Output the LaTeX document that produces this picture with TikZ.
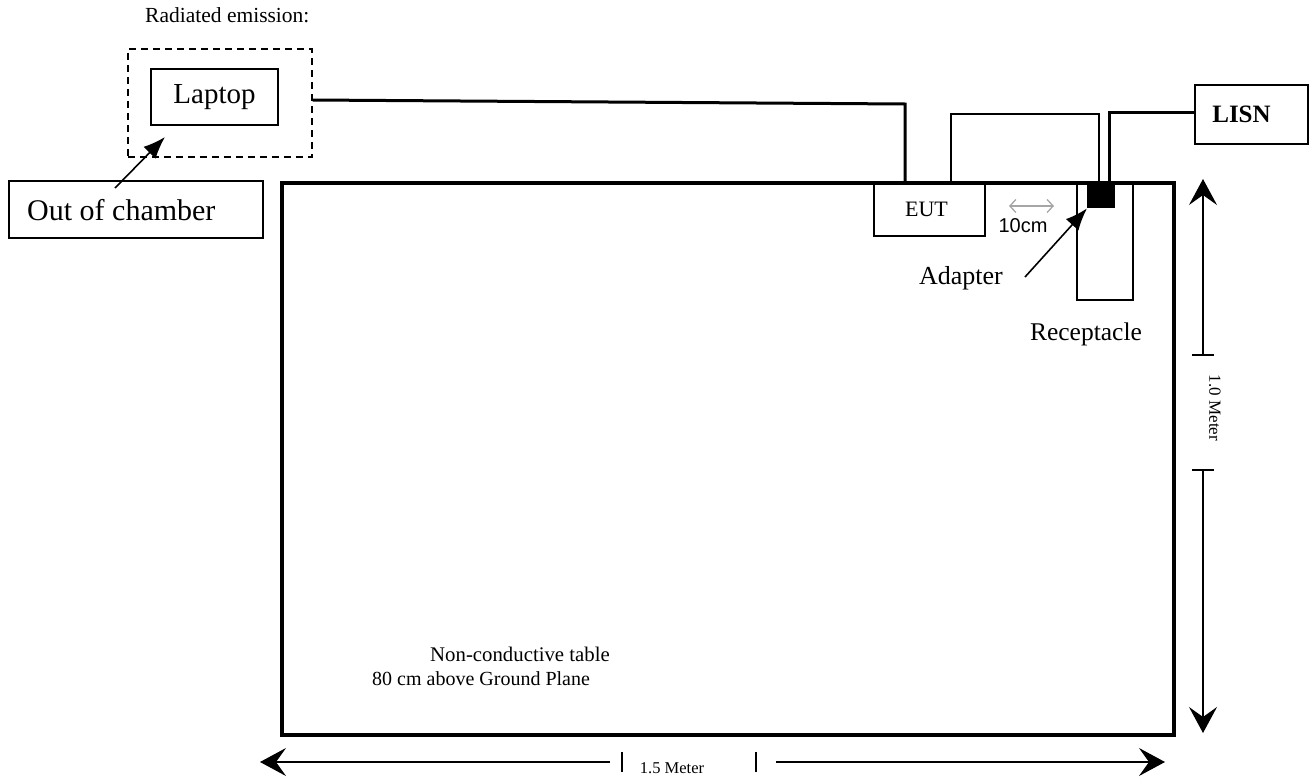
\documentclass[tikz,border=0pt]{standalone}
\usepackage{fontspec}
\setmainfont{Liberation Serif}
\newfontfamily\arialfont{Liberation Sans}
\usetikzlibrary{arrows.meta}
\begin{document}
\begin{tikzpicture}[x=1pt,y=-1pt,
  box/.style={draw,line width=2pt},
  cable/.style={line width=3pt},
  dimtip/.style={-{Stealth[length=26pt,width=28pt,inset=10pt]}},
  dimline/.style={line width=1.2pt},
  pointer/.style={line width=1.6pt,-{Latex[length=22pt,width=17pt]}},
  lbl/.style={inner sep=0pt}]
\useasboundingbox (0,0) rectangle (1310,782);
% title
\node[lbl,anchor=base west,font=\fontsize{21.5}{24}\selectfont] (title) at (145,22) {Radiated emission:};
% laptop area
\node[draw,dash pattern=on 7pt off 5pt,line width=1.6pt,minimum width=184pt,minimum height=108pt,anchor=north west,inner sep=0pt] (chamber) at (127,48) {};
\node[box,minimum width=127pt,minimum height=56pt,anchor=north west,inner sep=0pt,font=\fontsize{29}{31}\selectfont] (laptop) at (150,68) {Laptop};
\node[box,minimum width=254pt,minimum height=57pt,anchor=north west,inner sep=0pt] (ooc) at (8,180) {};
\node[lbl,anchor=west,font=\fontsize{30}{32}\selectfont] (ooctext) at (27,210) {Out of chamber};
\coordinate (oocA) at (115,188);
\coordinate (oocB) at (165,137);
\draw[pointer] (oocA) -- (oocB);
% table
\node[draw,line width=3.5pt,minimum width=892pt,minimum height=552pt,anchor=north west,inner sep=0pt] (table) at (280,181) {};
\node[lbl,anchor=west,font=\fontsize{20.8}{23}\selectfont] (tabtext1) at (430,654) {Non-conductive table};
\node[lbl,anchor=west,font=\fontsize{20}{23}\selectfont] (tabtext2) at (372,679) {80 cm above Ground Plane};
% EUT and other boxes
\node[box,minimum width=111pt,minimum height=54pt,anchor=north west,inner sep=0pt,font=\fontsize{22}{24}\selectfont] (eut) at (873,181) {\hspace*{-6pt}EUT};
\node[box,minimum width=148pt,minimum height=68pt,anchor=north west,inner sep=0pt] (upper) at (950,113) {};
\node[box,minimum width=56pt,minimum height=118pt,anchor=north west,inner sep=0pt] (recept) at (1076,181) {};
\node[fill=black,minimum width=28pt,minimum height=24pt,anchor=north west,inner sep=0pt] (adapter) at (1087,184) {};
\node[box,minimum width=113pt,minimum height=59pt,anchor=north west,inner sep=0pt,font=\fontsize{25}{27}\selectfont\bfseries] (lisn) at (1194,84) {\hspace*{-20pt}LISN};
% cables
\coordinate (c1) at (905,104);
\draw[cable] (chamber.east |- 0,100) -- (c1) -- (c1 |- table.north);
\coordinate (c2) at (1109,112);
\draw[cable] (c2 |- table.north) -- (c2) -- (lisn.west |- c2);
% 10cm
\coordinate (g1) at (1009,206);
\coordinate (g2) at (1054,206);
\draw[gray!70,line width=1.3pt,{Straight Barb[length=6pt,width=13pt]}-{Straight Barb[length=6pt,width=13pt]}] (g1) -- (g2);
\node[lbl,font=\arialfont\fontsize{20}{22}\selectfont] (tencm) at (1023,226) {10cm};
% adapter label
\node[lbl,font=\fontsize{26}{28}\selectfont] (adtext) at (961,278) {Adapter};
\coordinate (adA) at (1025,277);
\draw[pointer] (adA) -- (adapter.south west);
\node[lbl,font=\fontsize{25.5}{28}\selectfont] (rectext) at (1086,334) {Receptacle};
% vertical dimension
\coordinate (v1) at (1203,355);
\coordinate (v2) at (1203,470);
\coordinate (vtop) at (1203,179);
\coordinate (vbot) at (1203,733);
\draw[dimline,dimtip] (v1) -- (vtop);
\draw[dimline,dimtip] (v2) -- (vbot);
\draw[dimline] ([xshift=-11pt]v1) -- ([xshift=11pt]v1);
\draw[dimline] ([xshift=-11pt]v2) -- ([xshift=11pt]v2);
\node[lbl,rotate=-90,font=\fontsize{17}{19}\selectfont] (vtext) at (1215,408) {1.0 Meter};
% horizontal dimension
\coordinate (h1) at (622,762);
\coordinate (h2) at (756,762);
\coordinate (hl) at (260,762);
\coordinate (hr) at (1165,762);
\draw[dimline,dimtip] ([xshift=-12pt]h1) -- (hl);
\draw[dimline,dimtip] ([xshift=20pt]h2) -- (hr);
\draw[dimline] ([yshift=-10pt]h1) -- ([yshift=10pt]h1);
\draw[dimline] ([yshift=-10pt]h2) -- ([yshift=10pt]h2);
\node[lbl,font=\fontsize{16.5}{18}\selectfont] (htext) at (672,768) {1.5 Meter};
\end{tikzpicture}
\end{document}
